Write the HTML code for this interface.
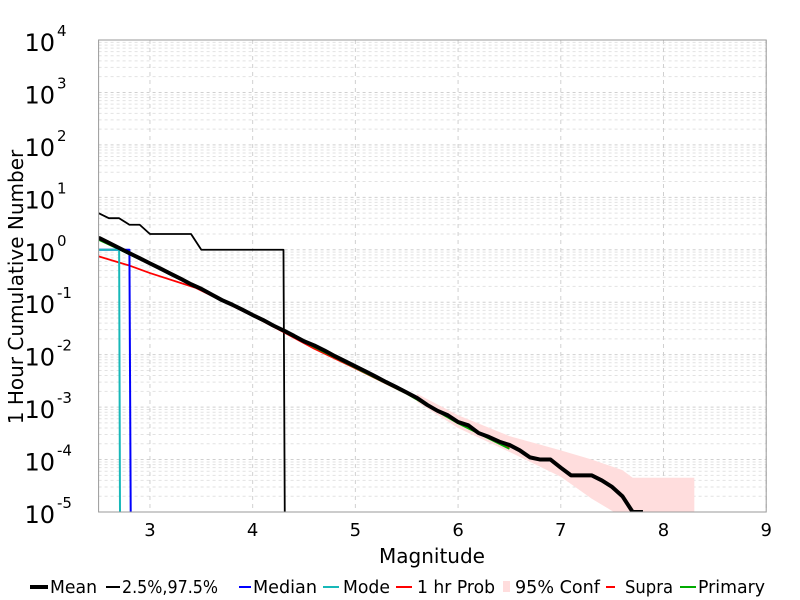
<!DOCTYPE html>
<html><head><meta charset="utf-8"><style>
html,body{margin:0;padding:0;background:#fff;overflow:hidden;width:800px;height:600px;}
svg{display:block;}
svg text{font-family:"DejaVu Sans","Liberation Sans",sans-serif;}
</style></head><body>
<svg id="chart" width="800" height="600" xmlns="http://www.w3.org/2000/svg">
<rect width="800" height="600" fill="#fff"/>
<g id="grid"></g>
<g id="series"></g>
<rect x="98.6" y="40" width="667.6" height="472" fill="none" stroke="#999" stroke-width="1"/>
<g id="axes"></g>
<text x="432" y="563" font-size="20" text-anchor="middle">Magnitude</text>
<text transform="translate(23,287) rotate(-90)" font-size="20" text-anchor="middle">1 Hour Cumulative Number</text>
<g id="legend">
 <g><line x1="30" y1="587" x2="48" y2="587" stroke="#000" stroke-width="4"/><text x="50" y="593" font-size="18" textLength="47" lengthAdjust="spacingAndGlyphs">Mean</text></g>
 <g><line x1="106" y1="587" x2="120" y2="587" stroke="#000" stroke-width="2"/><text x="122" y="593" font-size="18" textLength="96" lengthAdjust="spacingAndGlyphs">2.5%,97.5%</text></g>
 <g><line x1="239" y1="587" x2="251" y2="587" stroke="#0000ff" stroke-width="2"/><text x="253" y="593" font-size="18" textLength="64" lengthAdjust="spacingAndGlyphs">Median</text></g>
 <g><line x1="323" y1="587" x2="339" y2="587" stroke="#17b8b8" stroke-width="2"/><text x="343" y="593" font-size="18" textLength="47" lengthAdjust="spacingAndGlyphs">Mode</text></g>
 <g><line x1="396" y1="587" x2="412" y2="587" stroke="#ff0000" stroke-width="2"/><text x="417" y="593" font-size="18" textLength="78" lengthAdjust="spacingAndGlyphs">1 hr Prob</text></g>
 <g><rect x="503" y="581" width="7" height="11" fill="#ffdddd"/><text x="515" y="593" font-size="18" textLength="85" lengthAdjust="spacingAndGlyphs">95% Conf</text></g>
 <g><line x1="606" y1="587" x2="615" y2="587" stroke="#ff0000" stroke-width="2"/><text x="625" y="593" font-size="18" textLength="48" lengthAdjust="spacingAndGlyphs">Supra</text></g>
 <g><line x1="680" y1="587" x2="696" y2="587" stroke="#00aa00" stroke-width="2"/><text x="698" y="593" font-size="18" textLength="67" lengthAdjust="spacingAndGlyphs">Primary</text></g>
</g>
</svg>
<script>
const mags=[2.5,2.6,2.7,2.8,2.9,3.0,3.1,3.2,3.3,3.4,3.5,3.6,3.7,3.8,3.9,4.0,4.1,4.2,4.3,4.4,4.5,4.6,4.7,4.8,4.9,5.0,5.1,5.2,5.3,5.4,5.5,5.6,5.7,5.8,5.9,6.0,6.1,6.2,6.3,6.4,6.5,6.6,6.7,6.8,6.9,7.0,7.1,7.2,7.3,7.4,7.5,7.6,7.7,7.8];
const meanVals=[1.70,1.36,1.08,0.86,0.69,0.55,0.44,0.35,0.28,0.22,0.18,0.14,0.11,0.090,0.072,0.057,0.046,0.036,0.029,0.023,0.018,0.015,0.012,0.0094,0.0075,0.0060,0.0048,0.0038,0.0030,0.0024,0.0019,0.0015,0.0011,0.00085,0.00070,0.00052,0.00045,0.00032,0.00027,0.00022,0.00019,0.00015,0.00011,0.0001,0.0001,0.00007,0.00005,0.00005,0.00005,0.00004,0.00003,0.00002,0.00001,0.00001];
const probMags=[2.5,2.8,3.0,3.44,4.0,4.3,4.6,5.0,5.5,6.0,6.5];
const probVals=[0.75,0.50,0.36,0.19,0.055,0.027,0.013,0.0055,0.0018,0.00050,0.00017];
const primMags=[2.5,2.7,3.0,3.5,4.0,4.5,5.0,5.5,6.0,6.5];
const primVals=[1.55,1.02,0.53,0.175,0.055,0.0175,0.0056,0.0018,0.00049,0.00016];
const pctMags=[2.5,2.6,2.7,2.8,2.9,3.0,3.4,3.5,4.3,4.33];
const upperVals=[5,4,4,3,3,2,2,1,1,0];
const medianMags=[2.5,2.8,2.83];
const medianVals=[1,1,0];
const modeMags=[2.5,2.7,2.72];
const modeVals=[1,1,0];
const confMags=[5.6,6.0,6.5,7.0,7.3,7.6,7.7,8.3];
const confUpper=[0.0018,0.0007,0.00028,0.00015,0.0001,0.000063,0.000045,0.000045];
const confLower=[0.00126,0.0004,0.00014,0.000047,0.000018,0.000008,0.000008,0.000008];
const xTicks=[3,4,5,6,7,8,9];
const yDecades=[-5,-4,-3,-2,-1,0,1,2,3,4];

const X0=98.6,X1=766.2,Y0=512,Y1=40;
function xs(m){return X0+(m-2.5)/(9-2.5)*(X1-X0);}
function ys(v){if(v<=0)v=1e-12;return Y0-(Math.log10(v)+5)/9*(Y0-Y1);}
const NS="http://www.w3.org/2000/svg";
function mk(tag,attrs,parent){const e=document.createElementNS(NS,tag);for(const k in attrs)e.setAttribute(k,attrs[k]);parent.appendChild(e);return e;}
const grid=document.getElementById('grid'),axes=document.getElementById('axes'),ser=document.getElementById('series');
yDecades.forEach(d=>{
  for(let k=1;k<=9;k++){
    if(d===4&&k>1)break;
    const y=ys(k*Math.pow(10,d));
    const l=mk('line',{x1:X0,x2:X1,y1:y,y2:y,stroke:k===1?'#d0d0d0':'#e2e2e2','stroke-width':1,'stroke-dasharray':'3,3'},grid);
    
    
  }
});
xTicks.forEach(t=>{
  const x=xs(t);
  const l=mk('line',{x1:x,x2:x,y1:Y1,y2:Y0,stroke:'#d0d0d0','stroke-width':1,'stroke-dasharray':'4,4'},grid);
  
  
  const tx=mk('text',{x:x,y:536,'font-size':18,'text-anchor':'middle'},axes);
  tx.textContent=t;
  
  
});
yDecades.forEach(d=>{
  const y=ys(Math.pow(10,d));
  const tx=mk('text',{x:55,y:y+11,'font-size':24,'text-anchor':'end'},axes);
  tx.textContent='10';
  
  
  const sp=mk('text',{x:57,y:y-4,'font-size':15,'text-anchor':'start'},axes);
  sp.textContent=String(d);
  
  
});
const defs=mk('defs',{},ser);
const cp=mk('clipPath',{id:'clip'},defs);
mk('rect',{x:X0,y:Y1,width:X1-X0,height:Y0-Y1},cp);
const g=mk('g',{'clip-path':'url(#clip)'},ser);
let d='';
confMags.forEach((m,i)=>{d+=(i?'L':'M')+xs(m)+','+ys(confUpper[i]);});
for(let i=confMags.length-1;i>=0;i--)d+='L'+xs(confMags[i])+','+ys(confLower[i]);
const band=mk('path',{d:d+'Z',fill:'#ffdddd',stroke:'none'},g);


function line(ms,vs,color,w,name){
  const pts=ms.map((m,i)=>xs(m)+','+ys(vs[i])).join(' ');
  const p=mk('polyline',{points:pts,fill:'none',stroke:color,'stroke-width':w,'stroke-linejoin':'round'},g);
  
  
}
line(pctMags,upperVals,'#000',1.8,'percentile-97-5-line');
line(probMags,probVals,'#ff0000',1.8,'prob-1hr-line');
line(primMags,primVals,'#00aa00',1.8,'primary-line');
line(medianMags,medianVals,'#0000ff',2,'median-line');
line(modeMags,modeVals,'#17b8b8',2,'mode-line');
line(mags,meanVals,'#000',4,'mean-line');
</script>
</body></html>
